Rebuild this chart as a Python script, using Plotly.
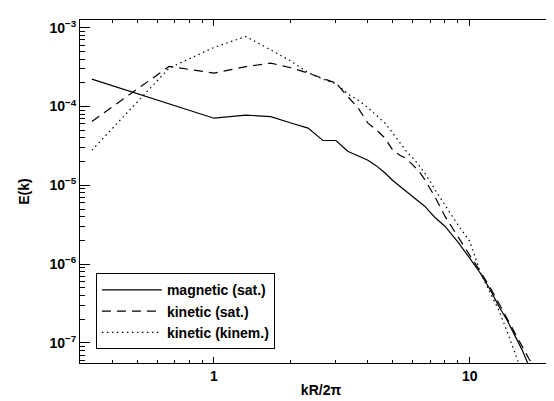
import plotly.graph_objects as go

# kR/2pi sample points
k = [0.333, 0.667, 1.0, 1.333, 1.667, 2.0, 2.333, 2.667, 3.0, 3.333, 3.667,
     4.0, 4.333, 4.667, 5.0, 5.333, 5.667, 6.0, 6.333, 6.667, 7.0, 7.333,
     8.0, 9.0, 10.0, 11.0, 12.0, 13.0, 14.0, 15.0, 16.0, 17.0, 18.0]

magnetic_sat = [2.22e-4, 1.08e-4, 7.1e-5, 7.76e-5, 7.43e-5, 6.18e-5, 5.31e-5,
                3.70e-5, 3.70e-5, 2.71e-5, 2.34e-5, 2.08e-5, 1.75e-5, 1.43e-5,
                1.15e-5, 9.75e-6, 8.4e-6, 7.2e-6, 6.19e-6, 5.43e-6, 4.56e-6,
                3.88e-6, 3.03e-6, 1.90e-6, 1.19e-6, 7.67e-7, 4.81e-7, 2.92e-7,
                1.94e-7, 1.26e-7, 8.3e-8, 5.2e-8, 3.3e-8]

kinetic_sat = [6.46e-5, 3.22e-4, 2.65e-4, 3.20e-4, 3.55e-4, 3.10e-4, 2.65e-4,
               2.29e-4, 1.98e-4, 1.34e-4, 9.5e-5, 6.14e-5, 5.0e-5, 3.96e-5,
               2.79e-5, 2.41e-5, 2.18e-5, 1.80e-5, 1.51e-5, 1.19e-5, 9.2e-6,
               7.06e-6, 4.06e-6, 2.19e-6, 1.30e-6, 8.1e-7, 5.1e-7, 3.19e-7,
               2.06e-7, 1.36e-7, 9.1e-8, 6.4e-8, 4.8e-8]

kinetic_kinem = [2.79e-5, 3.06e-4, 5.61e-4, 7.73e-4, 5.22e-4, 3.76e-4, 2.68e-4,
                 2.22e-4, 1.95e-4, 1.45e-4, 1.20e-4, 9.66e-5, 7.64e-5, 6.14e-5,
                 4.6e-5, 3.42e-5, 2.67e-5, 2.21e-5, 1.80e-5, 1.43e-5, 1.13e-5,
                 8.67e-6, 5.6e-6, 3.15e-6, 1.95e-6, 7.9e-7, 4.4e-7, 2.6e-7,
                 1.41e-7, 7.6e-8, 4.5e-8, 2.6e-8, 1.5e-8]

names = ["magnetic (sat.)", "kinetic (sat.)", "kinetic (kinem.)"]

x_tickvals = [1, 10]
x_ticktext = ["1", "10"]
y_tickvals = [1e-7, 1e-6, 1e-5, 1e-4, 1e-3]
y_tickexp = ["−7", "−6", "−5", "−4", "−3"]

X_RANGE = [-0.524, 1.361]
Y_RANGE = [-7.254, -2.903]

FONT = "Liberation Sans, Arial, sans-serif"


def b(s):
    return "<b>" + s + "</b>"


fig = go.Figure()
fig.add_trace(go.Scatter(x=k, y=magnetic_sat, mode="lines", name=b(names[0]),
                         line=dict(color="black", width=1.2, dash="solid")))
fig.add_trace(go.Scatter(x=k, y=kinetic_sat, mode="lines", name=b(names[1]),
                         line=dict(color="black", width=1.2, dash="9px,6px")))
fig.add_trace(go.Scatter(x=k, y=kinetic_kinem, mode="lines", name=b(names[2]),
                         line=dict(color="black", width=1.2, dash="1.5px,3.5px")))

fig.update_xaxes(type="log", range=X_RANGE,
                 tickmode="array", tickvals=x_tickvals,
                 ticktext=[b(t) for t in x_ticktext],
                 ticks="inside", ticklen=6, tickwidth=1, tickcolor="black",
                 minor=dict(ticks="inside", ticklen=3, tickwidth=1, tickcolor="black",
                            dtick="D1"),
                 showline=True, linecolor="black", linewidth=1, mirror="allticks",
                 showgrid=False, zeroline=False,
                 tickfont=dict(size=14, family=FONT, color="black"),
                 title=dict(text=b("kR/2π"), font=dict(size=14, family=FONT, color="black"),
                            standoff=2))
fig.update_yaxes(type="log", range=Y_RANGE,
                 tickmode="array", tickvals=y_tickvals,
                 ticktext=[b("10<sup>" + e + "</sup>") for e in y_tickexp],
                 ticks="inside", ticklen=10, tickwidth=1, tickcolor="black",
                 minor=dict(ticks="inside", ticklen=5, tickwidth=1, tickcolor="black",
                            dtick="D1"),
                 showline=True, linecolor="black", linewidth=1, mirror="allticks",
                 showgrid=False, zeroline=False,
                 tickfont=dict(size=14, family=FONT, color="black"),
                 title=dict(text=b("E(k)"), font=dict(size=14, family=FONT, color="black"),
                            standoff=16))

fig.update_layout(
    width=554, height=401,
    margin=dict(l=72, r=0, t=12, b=46),
    paper_bgcolor="white", plot_bgcolor="white",
    font=dict(family=FONT, size=14, color="black"),
    showlegend=True,
    legend=dict(x=0.033, y=0.2615, xanchor="left", yanchor="top",
                bgcolor="white", bordercolor="black", borderwidth=1,
                font=dict(size=14, family=FONT, color="black"),
                itemwidth=60, tracegroupgap=0),
)

fig.write_html("out.html")
